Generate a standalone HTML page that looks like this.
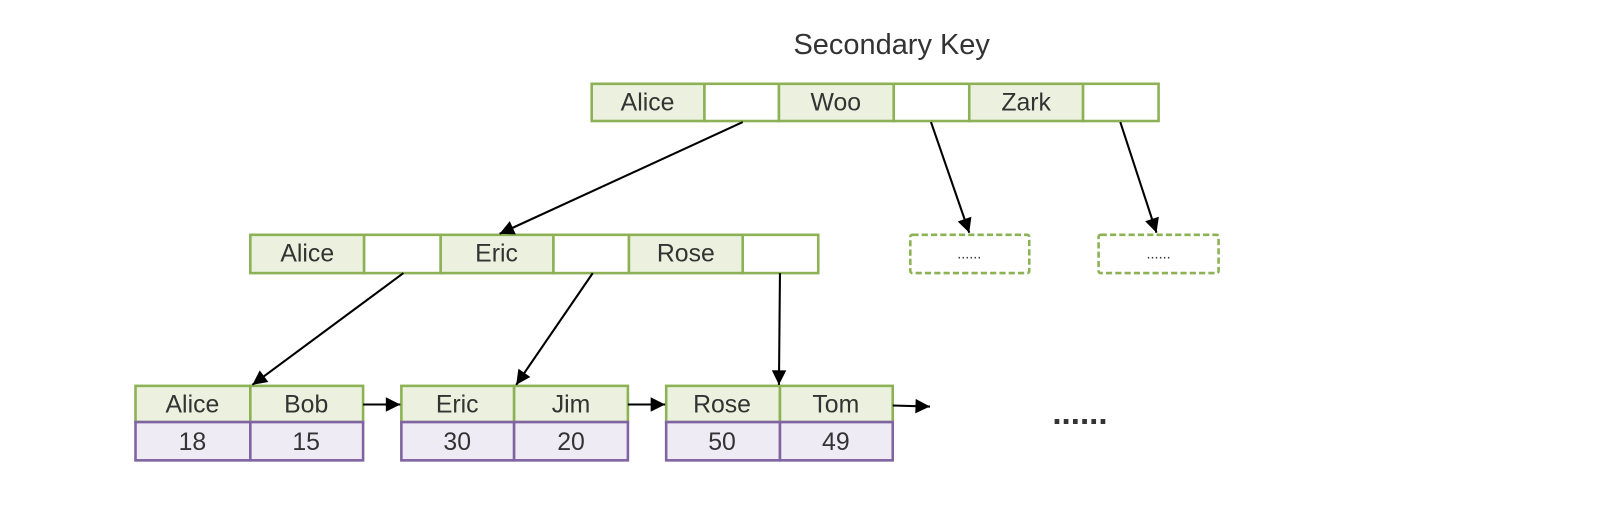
<!DOCTYPE html>
<html><head><meta charset="utf-8"><style>
html,body{margin:0;padding:0;background:#fff;width:1622px;height:510px;overflow:hidden}
svg{display:block}
text{font-family:"Liberation Sans",sans-serif;fill:#333;text-anchor:middle}
</style></head><body>
<svg width="1622" height="510" viewBox="0 0 1568 493" preserveAspectRatio="none" xmlns="http://www.w3.org/2000/svg">
<defs><marker id="a" markerWidth="10" markerHeight="10" refX="9" refY="5" orient="auto" markerUnits="userSpaceOnUse"><path d="M0,0 L10,5 L0,10 z" fill="#000" transform="scale(1.6) translate(-3.5,-1.9)"/></marker>
<marker id="b" viewBox="0 0 10 10" markerWidth="16" markerHeight="14" refX="10" refY="5" orient="auto" markerUnits="userSpaceOnUse"><path d="M0,0 L10,5 L0,10 z" fill="#000"/></marker></defs>
<text x="862" y="52" font-size="28">Secondary Key</text>
<g stroke="#8db255" stroke-width="2.5">
<rect x="572" y="81" width="109" height="36" fill="#ebf1de"/><rect x="681" y="81" width="72" height="36" fill="#fff"/>
<rect x="753" y="81" width="111" height="36" fill="#ebf1de"/><rect x="864" y="81" width="73" height="36" fill="#fff"/>
<rect x="937" y="81" width="110" height="36" fill="#ebf1de"/><rect x="1047" y="81" width="73" height="36" fill="#fff"/>
<rect x="242" y="227" width="110" height="37" fill="#ebf1de"/><rect x="352" y="227" width="74" height="37" fill="#fff"/>
<rect x="426" y="227" width="109" height="37" fill="#ebf1de"/><rect x="535" y="227" width="73" height="37" fill="#fff"/>
<rect x="608" y="227" width="110" height="37" fill="#ebf1de"/><rect x="718" y="227" width="73" height="37" fill="#fff"/>
<rect x="880" y="227" width="115" height="37" fill="#fff" stroke-dasharray="6,3" rx="2"/>
<rect x="1062" y="227" width="116" height="37" fill="#fff" stroke-dasharray="6,3" rx="2"/>
<rect x="131" y="373" width="111" height="35" fill="#ebf1de"/><rect x="242" y="373" width="109" height="35" fill="#ebf1de"/>
<rect x="388" y="373" width="109" height="35" fill="#ebf1de"/><rect x="497" y="373" width="110" height="35" fill="#ebf1de"/>
<rect x="644" y="373" width="110" height="35" fill="#ebf1de"/><rect x="754" y="373" width="109" height="35" fill="#ebf1de"/>
</g>
<g stroke="#8064a2" stroke-width="2.5" fill="#efebf4">
<rect x="131" y="408" width="111" height="37"/><rect x="242" y="408" width="109" height="37"/>
<rect x="388" y="408" width="109" height="37"/><rect x="497" y="408" width="110" height="37"/>
<rect x="644" y="408" width="110" height="37"/><rect x="754" y="408" width="109" height="37"/>
</g>
<g font-size="24">
<text x="626" y="107">Alice</text><text x="808" y="107">Woo</text><text x="992" y="107">Zark</text>
<text x="297" y="253">Alice</text><text x="480" y="253">Eric</text><text x="663" y="253">Rose</text>
<text x="186" y="399">Alice</text><text x="296" y="399">Bob</text><text x="442" y="399">Eric</text><text x="552" y="399">Jim</text><text x="698" y="399">Rose</text><text x="808" y="399">Tom</text>
<text x="186" y="435">18</text><text x="296" y="435">15</text><text x="442" y="435">30</text><text x="552" y="435">20</text><text x="698" y="435">50</text><text x="808" y="435">49</text>
</g>
<text x="937" y="250" font-size="14">......</text><text x="1120" y="250" font-size="14">......</text>
<text x="1044" y="410" font-size="32" font-weight="bold" fill="#000">......</text>
<g stroke="#000" stroke-width="2" marker-end="url(#b)">
<line x1="718" y1="118" x2="483" y2="226"/>
<line x1="900" y1="118" x2="937" y2="225"/>
<line x1="1083" y1="118" x2="1118" y2="225"/>
<line x1="390" y1="264" x2="244" y2="372"/>
<line x1="573" y1="264" x2="499" y2="372"/>
<line x1="754" y1="264" x2="753" y2="372"/>
<line x1="351" y1="391" x2="387" y2="391"/>
<line x1="607" y1="391" x2="643" y2="391"/>
<line x1="863" y1="392" x2="899" y2="393"/>
</g>
</svg>
</body></html>
